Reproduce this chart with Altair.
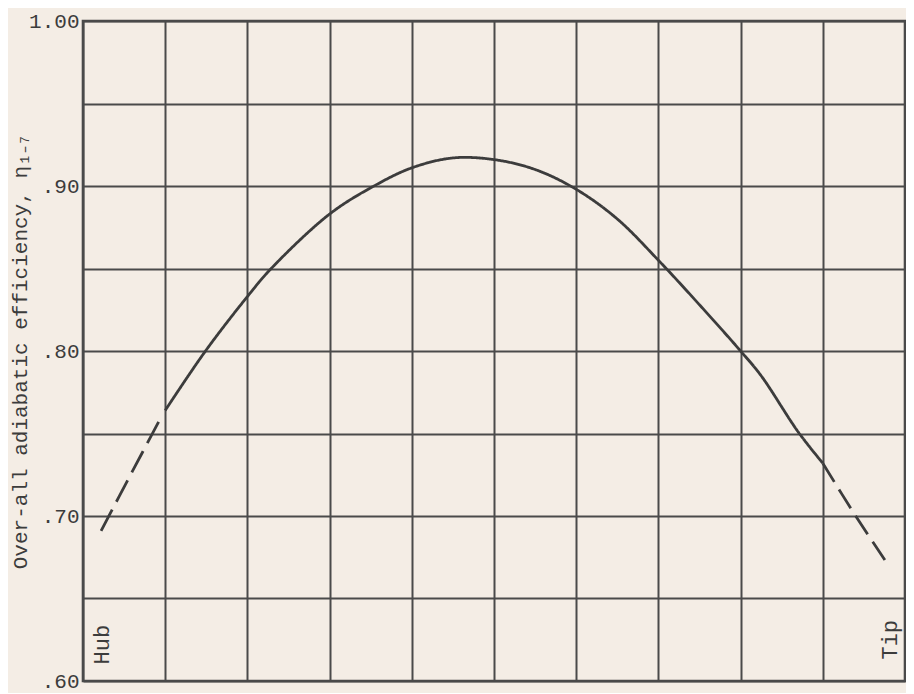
import altair as alt
import pandas as pd

# ---- data ----
# x: position across the passage, in grid divisions from hub (0) to tip (10)
hub_dash_pos = [0.22, 0.60, 0.92]
hub_dash_eff = [0.691, 0.727, 0.757]

solid_pos = [1.00, 1.49, 2.00, 2.29, 3.00, 3.54, 4.00, 4.50, 5.00, 5.50,
             6.00, 6.50, 7.00, 7.50, 8.00, 8.25, 8.70, 9.00]
solid_eff = [0.764, 0.800, 0.833, 0.850, 0.883, 0.900, 0.911, 0.917, 0.916, 0.910,
             0.898, 0.880, 0.855, 0.828, 0.800, 0.785, 0.751, 0.732]

tip_dash_pos = [9.00, 9.40, 9.80]
tip_dash_eff = [0.732, 0.700, 0.670]

x_grid = [0, 1, 2, 3, 4, 5, 6, 7, 8, 9, 10]
y_grid = [0.60, 0.65, 0.70, 0.75, 0.80, 0.85, 0.90, 0.95, 1.00]
y_label_values = [0.60, 0.70, 0.80, 0.90, 1.00]
y_label_text = [".60", ".70", ".80", ".90", "1.00"]

end_labels = ["Hub", "Tip"]
end_label_pos = [0.23, 9.82]
end_label_eff = [0.610, 0.613]

y_title = "Over-all adiabatic efficiency, \u03b7\u2081\u208b\u2087"

# ---- tables ----
rows = []
for seg, ps, es in (("hub", hub_dash_pos, hub_dash_eff),
                    ("mid", solid_pos, solid_eff),
                    ("tip", tip_dash_pos, tip_dash_eff)):
    for p, e in zip(ps, es):
        rows.append({"pos": p, "eff": e, "segment": seg})
curve = pd.DataFrame(rows)
labels = pd.DataFrame({"pos": end_label_pos, "eff": end_label_eff, "text": end_labels})

label_expr = ""
for v, t in zip(y_label_values, y_label_text):
    label_expr += f"abs(datum.value - {v}) < 0.001 ? '{t}' : "
label_expr += "''"

FONT = "Liberation Mono"
INK = "#3c3c3c"
GRID = "#4a4a4a"
W, H = 822, 660

x_enc = alt.X("pos:Q",
              scale=alt.Scale(domain=[0, 10], nice=False, zero=False),
              axis=alt.Axis(values=x_grid, labels=False, ticks=False, tickSize=0,
                            domain=False, grid=True, title=None))
y_enc = alt.Y("eff:Q",
              scale=alt.Scale(domain=[0.60, 1.00], nice=False, zero=False),
              axis=alt.Axis(values=y_grid, labelExpr=label_expr, ticks=False, tickSize=0,
                            domain=False, grid=True, labelFont=FONT, labelFontSize=21,
                            labelColor=INK, labelPadding=4, labelFlush=False,
                            labelOverlap=False, title=y_title, titleFont=FONT,
                            titleFontSize=21, titleFontWeight="normal", titleColor=INK,
                            titleX=-53, titleY=H / 2, titleAngle=270,
                            titleBaseline="bottom", titleAlign="center"))

line = alt.Chart(curve).mark_line(interpolate="catmull-rom", strokeWidth=2.8, color=INK).encode(
    x=x_enc,
    y=y_enc,
    strokeDash=alt.StrokeDash("segment:N",
                              scale=alt.Scale(domain=["hub", "mid", "tip"],
                                              range=[[24, 9], [1, 0], [22, 9]]),
                              legend=None),
    order="pos:Q",
)

text = alt.Chart(labels).mark_text(angle=270, align="left", baseline="middle",
                                   font=FONT, fontSize=22, color=INK).encode(
    x="pos:Q", y="eff:Q", text="text:N")

chart = alt.layer(line, text).properties(
    width=W, height=H,
    autosize=alt.AutoSizeParams(type="none"),
    padding={"left": 75, "top": 13, "right": 1, "bottom": 12},
    background="#f4ede5",
).configure_view(stroke=GRID, strokeWidth=2.6).configure_axis(
    gridColor=GRID, gridWidth=2, gridOpacity=1)

chart.save("out.html", embed_options={"renderer": "svg", "actions": False})
